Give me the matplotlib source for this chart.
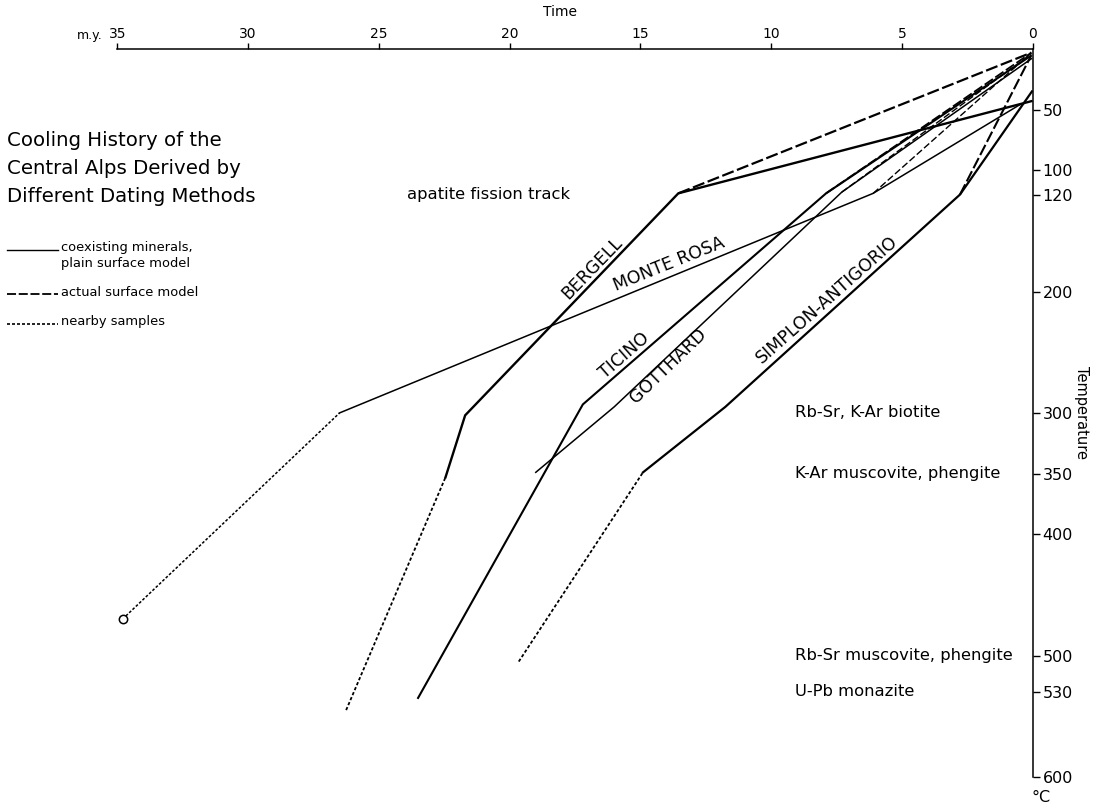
import matplotlib
matplotlib.use("Agg")
import matplotlib.pyplot as plt
from matplotlib.lines import Line2D

# ---------------- data ----------------
time_ticks = [35, 30, 25, 20, 15, 10, 5, 0]
temp_ticks = [50, 100, 120, 200, 300, 350, 400, 500, 530, 600]

# Bergell
bergell_dotted_age = [26.25, 22.45]
bergell_dotted_temp = [545, 353]
bergell_age = [22.45, 21.7, 13.55, 0.05]
bergell_temp = [353, 302, 119, 43]
bergell_surface_age = [13.55, 0.05]
bergell_surface_temp = [119, 3]

# Monte Rosa
monterosa_dotted_age = [34.8, 26.5]
monterosa_dotted_temp = [470, 300]
monterosa_age = [26.5, 6.1, 0.5]
monterosa_temp = [300, 119, 46]
monterosa_surface_age = [6.1, 0.1]
monterosa_surface_temp = [119, 4]

# Ticino
ticino_age = [23.5, 17.2, 7.9, 0.1]
ticino_temp = [535, 293, 119, 6]
ticino_surface_age = [7.9, 0.05]
ticino_surface_temp = [119, 3]

# Gotthard
gotthard_age = [19.0, 16.0, 7.3, 0.05]
gotthard_temp = [349, 295, 118, 8]
gotthard_surface_age = [7.3, 0.05]
gotthard_surface_temp = [118, 4]

# Simplon-Antigorio
simplon_dotted_age = [19.65, 14.9]
simplon_dotted_temp = [505, 349]
simplon_age = [14.9, 11.75, 2.78, 0.03]
simplon_temp = [349, 295, 120, 35]
simplon_surface_age = [2.78, 0.05]
simplon_surface_temp = [120, 5]

method_labels = ["apatite fission track", "Rb-Sr, K-Ar biotite",
                 "K-Ar muscovite, phengite", "Rb-Sr muscovite, phengite",
                 "U-Pb monazite"]
method_temps = [120, 300, 350, 500, 530]

# ---------------- figure ----------------
plt.rcParams['font.family'] = ['DejaVu Sans']
W, H = 1101, 807
fig = plt.figure(figsize=(W / 100, H / 100), dpi=100)
ax = fig.add_axes([117.3 / W, 1 - 776.8 / H, 915.4 / W, 727.8 / H])
ax.set_xlim(35, 0)
ax.set_ylim(600, 0)

for s in ['left', 'bottom']:
    ax.spines[s].set_visible(False)
for s in ['top', 'right']:
    ax.spines[s].set_linewidth(1.1)

ax.xaxis.tick_top()
ax.yaxis.tick_right()
ax.set_xticks(time_ticks)
ax.set_xticklabels([str(t) for t in time_ticks])
ax.set_yticks(temp_ticks)
ax.set_yticklabels([str(t) for t in temp_ticks])
ax.tick_params(axis='x', direction='out', length=4, width=1, pad=2, labelsize=10)
ax.tick_params(axis='y', direction='out', length=5, width=1, pad=2, labelsize=11.5)

K = 'black'
dot = (0, (1.8, 1.2))
dash = (0, (5.5, 1.6))

# Bergell
ax.plot(bergell_dotted_age, bergell_dotted_temp, color=K, lw=1.3, ls=dot)
ax.plot(bergell_age, bergell_temp, color=K, lw=1.7, solid_joinstyle='miter')
ax.plot(bergell_surface_age, bergell_surface_temp, color=K, lw=1.6, ls=dash)
# Monte Rosa
ax.plot(monterosa_dotted_age, monterosa_dotted_temp, color=K, lw=1.1, ls=dot)
ax.plot(monterosa_dotted_age[:1], monterosa_dotted_temp[:1], 'o', mfc='white',
        mec=K, ms=6, mew=1.1)
ax.plot(monterosa_age, monterosa_temp, color=K, lw=1.1)
ax.plot(monterosa_surface_age, monterosa_surface_temp, color=K, lw=1.0, ls=(0, (5, 2)))
# Ticino
ax.plot(ticino_age, ticino_temp, color=K, lw=1.5)
ax.plot(ticino_surface_age, ticino_surface_temp, color=K, lw=1.3, ls=dash)
# Gotthard
ax.plot(gotthard_age, gotthard_temp, color=K, lw=1.1)
ax.plot(gotthard_surface_age, gotthard_surface_temp, color=K, lw=1.0, ls=(0, (5, 2)))
# Simplon
ax.plot(simplon_dotted_age, simplon_dotted_temp, color=K, lw=1.3, ls=dot)
ax.plot(simplon_age, simplon_temp, color=K, lw=1.6)
ax.plot(simplon_surface_age, simplon_surface_temp, color=K, lw=1.5, ls=dash)

# line labels
lab = dict(fontsize=12.5, ha='center', va='center', rotation_mode='anchor')
ax.text(16.85, 181, "BERGELL", rotation=46, **lab)
ax.text(13.9, 177, "MONTE ROSA", rotation=22, **lab)
ax.text(15.6, 253, "TICINO", rotation=41, **lab)
ax.text(13.94, 261, "GOTTHARD", rotation=44, **lab)
ax.text(7.88, 207, "SIMPLON-ANTIGORIO", rotation=41.5, **lab)

# method labels
ax.text(23.93, method_temps[0], method_labels[0], fontsize=11.8, ha='left', va='center')
for lbl, t in zip(method_labels[1:], method_temps[1:]):
    ax.text(9.1, t, lbl, fontsize=11.8, ha='left', va='center')

# axis titles
def fx(px):
    return px / W

def fy(py):
    return 1 - py / H

fig.text(fx(560), fy(12), "Time", fontsize=10, ha='center', va='center')
fig.text(fx(90), fy(35), "m.y.", fontsize=9, ha='center', va='center')
fig.text(fx(1082), fy(412), "Temperature", fontsize=10.5, ha='center', va='center',
         rotation=270)
fig.text(fx(1041), fy(798), "°C", fontsize=11.5, ha='center', va='center')

# title
title_lines = ["Cooling History of the", "Central Alps Derived by",
               "Different Dating Methods"]
for i, tl in enumerate(title_lines):
    fig.text(fx(7), fy(141 + 28 * i), tl, fontsize=14.2, ha='left', va='center')

# legend
fig.add_artist(Line2D([fx(7), fx(58)], [fy(250), fy(250)], color=K, lw=1.0,
                      transform=fig.transFigure))
fig.text(fx(61), fy(247), "coexisting minerals,", fontsize=9.4, ha='left', va='center')
fig.text(fx(61), fy(264), "plain surface model", fontsize=9.4, ha='left', va='center')
fig.add_artist(Line2D([fx(7), fx(58)], [fy(294), fy(294)], color=K, lw=1.3,
                      ls=(0, (5, 1.5)), transform=fig.transFigure))
fig.text(fx(61), fy(292), "actual surface model", fontsize=9.4, ha='left', va='center')
fig.add_artist(Line2D([fx(7), fx(58)], [fy(324), fy(324)], color=K, lw=1.2,
                      ls=dot, transform=fig.transFigure))
fig.text(fx(61), fy(322), "nearby samples", fontsize=9.4, ha='left', va='center')

fig.savefig("out.png", dpi=100)
